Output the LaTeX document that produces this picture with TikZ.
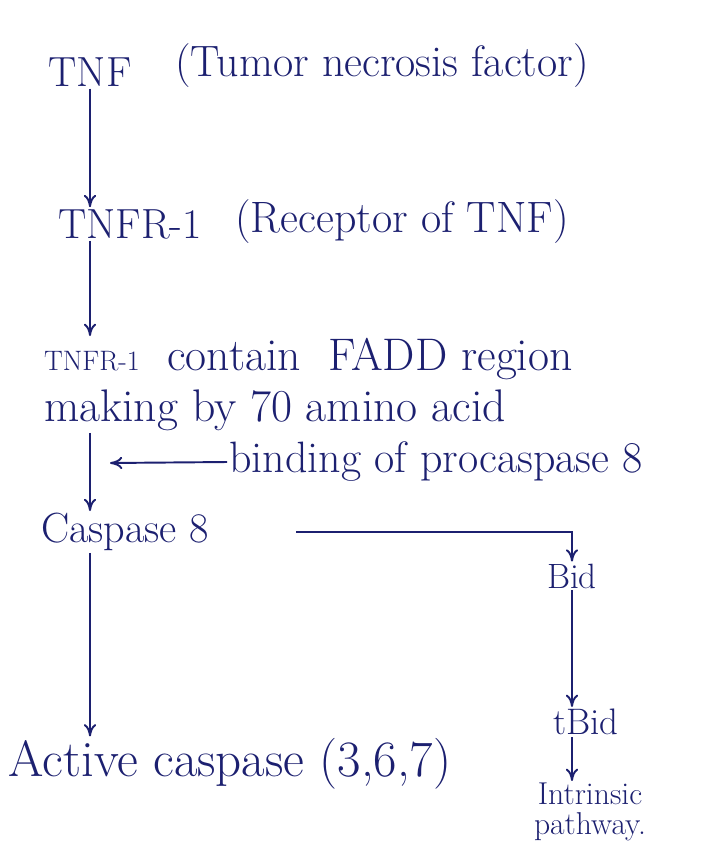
\documentclass[tikz,border=0pt]{standalone}
\usetikzlibrary{positioning,arrows.meta,calc}
\definecolor{inkcolor}{RGB}{28,32,112}

\begin{document}
\begin{tikzpicture}[x=0.02cm, y=-0.02cm,
		% Text styles
		step label/.style={text=inkcolor, font=\fontsize{24}{28}\selectfont, inner sep=1pt},
		note label/.style={text=inkcolor, font=\fontsize{25}{28}\selectfont, inner sep=1pt},
		side label/.style={text=inkcolor, font=\fontsize{20}{20}\selectfont, inner sep=1pt, align=center},
		% Arrow styles
		arrow/.style={-{To[length=7pt,width=7pt]}, draw=inkcolor, line width=1.1pt}
		]
		
		\useasboundingbox (0,0) rectangle (709,846);
		
		% Main path
		\node[step label] (tnf) at (90,72) {TNF};
		\node[note label] (tnfname) at (382,66) {(Tumor necrosis factor)};
		
		\node[step label] (tnfr) at (130,224) {TNFR-1};
		\node[note label] (tnfrname) at (402,222) {(Receptor of TNF)};
		
		\node[step label, font=\fontsize{26}{29}\selectfont, align=left, anchor=north west] (fadd) at (42,336)
			{{\fontsize{16}{18}\selectfont TNFR-1}\ \ contain\ \ FADD region\\making by 70 amino acid};
		
		\node[note label] (binding) at (436,462) {binding of procaspase 8};
		\coordinate (bindtip) at (110,463);
		
		\node[step label] (casp8) at (125,532) {Caspase 8};
		
		\node[step label, font=\fontsize{29}{32}\selectfont] (active) at (230,764) {Active caspase (3,6,7)};
		
		% Side path
		\node[side label] (bid) at (572,576) {Bid};
		\node[side label, font=\fontsize{21}{21}\selectfont] (tbid) at (586,722) {tBid};
		\node[side label, font=\fontsize{18}{17}\selectfont] (intrinsic) at (590,812) {Intrinsic\\pathway.};
		
		% Arrows - main path
		\draw[arrow] (tnf.south) -- (tnf.south |- tnfr.north);
		\draw[arrow] (tnf |- tnfr.south) -- (tnf |- fadd.north);
		\draw[arrow] (tnf |- fadd.south) -- (tnf |- casp8.north);
		\draw[arrow] (binding.west) -- (bindtip);
		\draw[arrow] (tnf |- casp8.south) -- (tnf |- active.north);
		
		% Arrows - side path
		\draw[arrow] ([xshift=1.7cm]casp8.east) -| (bid.north);
		\draw[arrow] (bid.south) -- (bid.south |- tbid.north);
		\draw[arrow] (bid.south |- tbid.south) -- (bid.south |- intrinsic.north);
		
	\end{tikzpicture}
\end{document}
